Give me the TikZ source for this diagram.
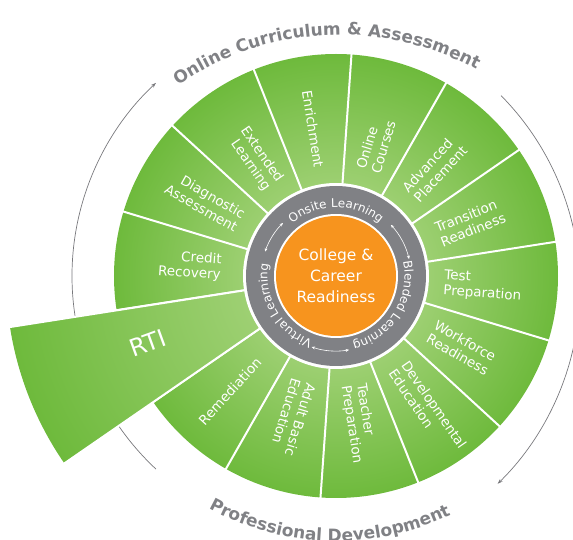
\documentclass[tikz,border=0pt]{standalone}
\usepackage{fontspec}
\setmainfont{DejaVu Sans}
\usetikzlibrary{decorations.text,arrows.meta}
\definecolor{gl}{RGB}{158,208,115}
\definecolor{gd}{RGB}{110,186,60}
\definecolor{ringgray}{RGB}{128,129,133}
\definecolor{orangec}{RGB}{247,148,30}
\definecolor{labgray}{RGB}{128,129,133}
\definecolor{arcgray}{RGB}{120,120,124}
\pgfdeclareradialshading{greenwheel}{\pgfpoint{0bp}{0bp}}{color(0bp)=(gl); color(10bp)=(gl); color(25bp)=(gd); color(50bp)=(gd)}
\pgfdeclareradialshading{rtiwheel}{\pgfpoint{0bp}{0bp}}{color(0bp)=(gl); color(7bp)=(gl); color(25bp)=(gd); color(50bp)=(gd)}
\begin{document}
\begin{tikzpicture}[x=1pt,y=1pt,
  seglab/.style={text=white, font=\fontsize{13.5}{15.5}\selectfont, inner sep=0pt},
  outlab/.style={seglab, anchor=west, align=left},
  inlab/.style={seglab, anchor=east, align=right},
  sepline/.style={white, line width=2pt},
  outerarc/.style={arcgray, line width=0.7pt, -{Stealth[length=5pt,width=3.5pt]}},
  ringarrow/.style={white, line width=0.6pt, {Stealth[length=3.5pt,width=3pt]}-{Stealth[length=3.5pt,width=3pt]}}
]
\useasboundingbox (-336,-264) rectangle (237,276);
\clip (-336,-264) rectangle (237,276);

% outer arcs
\draw[outerarc] (227:264) arc[start angle=227, end angle=133, radius=264];
\draw[outerarc] ([shift={(-30,-12)}]44.6:274) arc[start angle=44.6, end angle=-45.6, radius=274];

% green disc
\shade[shading=greenwheel] (0,0) circle (222);
\foreach \k in {0,...,13} {
  \pgfmathsetmacro\ang{86+\k*25.714}
  \draw[sepline] (\ang:90) -- (\ang:224);
}

% RTI wedge
\begin{scope}
  \clip (188.9:88) -- (188.9:330) arc[start angle=188.9, end angle=214.6, radius=330] -- (214.6:88) -- cycle;
  \shade[shading=rtiwheel] (0,0) circle (330);
\end{scope}
\draw[sepline] (188.9:90) -- (188.9:331);
\draw[sepline] (214.6:90) -- (214.6:331);

% ring and core
\fill[white] (0,0) circle (93);
\fill[ringgray] (0,0) circle (90);
\fill[white] (0,0) circle (62);
\fill[orangec] (0,0) circle (60);
\node[text=white, align=center, font=\fontsize{15.5}{21}\selectfont] (core) at (0,0) {College \&\\Career\\Readiness};

% ring texts
\path[decorate, decoration={text along path, text align=center,
  text={|\fontsize{12}{12}\selectfont\color{white}|Onsite Learning}}]
  (150:68.5) arc[start angle=150, end angle=30, radius=68.5];
\path[decorate, decoration={text along path, text align=center,
  text={|\fontsize{12}{12}\selectfont\color{white}|Blended Learning}}]
  (28:68.5) arc[start angle=28, end angle=-92, radius=68.5];
\path[decorate, decoration={text along path, text align=center,
  text={|\fontsize{12}{12}\selectfont\color{white}|Virtual Learning}}]
  (270:68.5) arc[start angle=270, end angle=150, radius=68.5];
\draw[ringarrow] (161:75) arc[start angle=161, end angle=135, radius=75];
\draw[ringarrow] (43:75) arc[start angle=43, end angle=13, radius=75];
\draw[ringarrow] (280:75) arc[start angle=280, end angle=251, radius=75];

% segment labels
\node[outlab, rotate=73.1] (oc) at (73.1:110) {Online\\Courses};
\node[outlab, rotate=47.4] (ap) at (47.4:110) {Advanced\\Placement};
\node[outlab, rotate=21.7] (tr) at (21.7:110) {Transition\\Readiness};
\node[outlab, rotate=-4] (tp) at (-4:108) {Test\\Preparation};
\node[outlab, rotate=-29.7] (wr) at (-29.7:110) {Workforce\\Readiness};
\node[outlab, rotate=-55.4] (de) at (-55.4:110) {Developmental\\Education};
\node[outlab, rotate=-81.1] (tc) at (-81.1:110) {Teacher\\Preparation};
\node[outlab, rotate=-106.9] (ab) at (-106.9:110) {Adult Basic\\Education};
\node[inlab, rotate=-81.1] (en) at (98.9:110) {Enrichment};
\node[inlab, rotate=-55.4] (el) at (124.6:110) {Extended\\Learning};
\node[inlab, rotate=-29.7] (da) at (150.3:110) {Diagnostic\\Assessment};
\node[inlab, rotate=-4] (cr) at (176:115) {Credit\\Recovery};
\node[inlab, rotate=47.4] (rm) at (227.4:114) {Remediation};
\node[text=white, font=\fontsize{24}{24}\selectfont, rotate=20] (rti) at (199.5:200) {RTI};

% outer labels
\path[decorate, decoration={text along path, text align=center,
  text={|\fontsize{17}{17}\selectfont\bfseries\color{labgray}|Online Curriculum {\&} Assessment}}]
  ([shift={(4,-44)}]133:285) arc[start angle=133, end angle=53, radius=285];
\path[decorate, decoration={text along path, text align=center,
  text={|\fontsize{17}{17}\selectfont\bfseries\color{labgray}|Professional Development}}]
  (198.5:265) arc[start angle=198.5, end angle=338.5, radius=265];
\end{tikzpicture}
\end{document}
